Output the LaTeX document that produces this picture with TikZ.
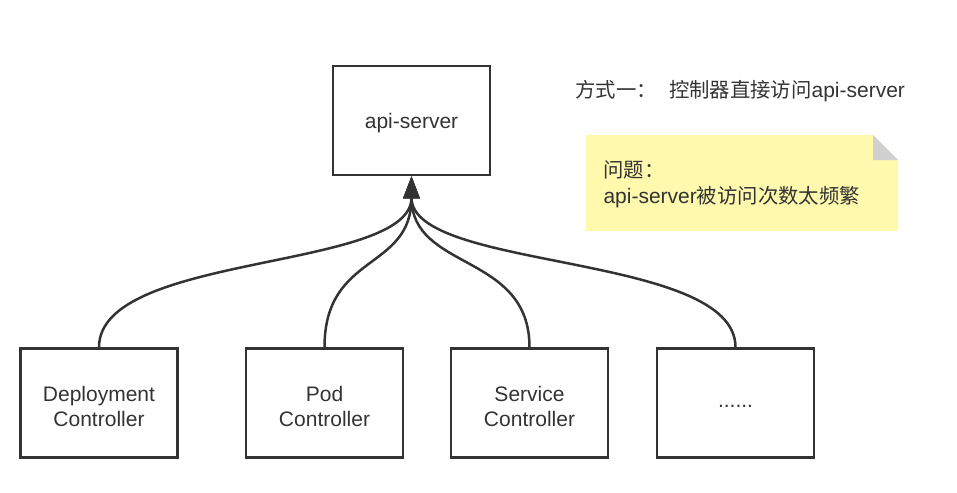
\documentclass[tikz,border=0pt]{standalone}
\usepackage{fontspec}
\setmainfont{Liberation Sans}
\newfontfamily\cjk{Noto Sans CJK SC}[Scale=0.97]
\usetikzlibrary{arrows.meta}
\definecolor{notebg}{HTML}{FFF9AE}
\definecolor{notefold}{HTML}{D0D0D0}
\definecolor{ink}{HTML}{333333}
\begin{document}
\begin{tikzpicture}[x=1pt,y=-1pt,>={Triangle[length=22pt,width=16pt]},
	box/.style={draw=ink,line width=2.5pt,minimum width=157pt,minimum height=109pt,
		label={[align=center,font=\fontsize{21}{25}\selectfont,text=ink,yshift=-3pt]center:#1}},
	link/.style={draw=ink,line width=2.5pt}]
		\useasboundingbox (0,0) rectangle (957,492);
		% api server
		\node[box={api-server}] (api) at (411.5,120.5) {};
		% controllers
		\node[box={Deployment\\Controller}] (dep) at (99,403) {};
		\node[box={Pod\\Controller}] (pod) at (324.5,403) {};
		\node[box={Service\\Controller}] (svc) at (529.5,403) {};
		\node[box={......}] (etc) at (735.5,403) {};
		% note
		\fill[notebg] (586,135) -- (873,135) -- (898,160) -- (898,231) -- (586,231) -- cycle;
		\fill[notefold] (873,135) -- (898,160) -- (873,160) -- cycle;
		\node[anchor=north west,align=left,font=\fontsize{21}{26}\selectfont,text=ink] (note) at (600,157) {{\cjk 问题：}\\api-server{\cjk 被访问次数太频繁}};
		\node[anchor=west,font=\fontsize{21}{25}\selectfont,text=ink] (title) at (572,91) {{\cjk 方式一：}\hspace{12pt}{\cjk 控制器直接访问}api-server};
		% connectors
		\foreach \c in {dep,pod,svc,etc}
			\draw[link,->] (\c.north) .. controls ++(0,-95) and ++(0,95) .. (api.south);
\end{tikzpicture}
\end{document}
